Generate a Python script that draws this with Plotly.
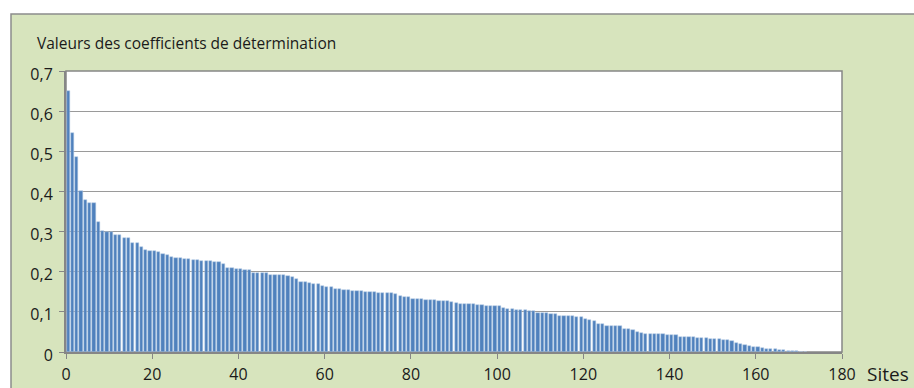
import plotly.graph_objects as go

# Coefficient of determination per site, sorted in decreasing order
r2_values = [
    0.651, 0.545, 0.486, 0.402, 0.379, 0.371, 0.371, 0.323, 0.301, 0.298,
    0.298, 0.291, 0.291, 0.285, 0.285, 0.272, 0.272, 0.262, 0.254, 0.252,
    0.252, 0.249, 0.245, 0.242, 0.237, 0.234, 0.234, 0.232, 0.232, 0.229,
    0.229, 0.227, 0.227, 0.227, 0.224, 0.224, 0.219, 0.209, 0.209, 0.207,
    0.207, 0.204, 0.204, 0.198, 0.198, 0.198, 0.198, 0.193, 0.191, 0.191,
    0.191, 0.189, 0.186, 0.181, 0.174, 0.174, 0.171, 0.169, 0.169, 0.164,
    0.161, 0.161, 0.156, 0.156, 0.154, 0.154, 0.151, 0.151, 0.151, 0.149,
    0.149, 0.149, 0.146, 0.146, 0.146, 0.146, 0.144, 0.140, 0.138, 0.138,
    0.132, 0.132, 0.132, 0.130, 0.130, 0.130, 0.127, 0.127, 0.127, 0.124,
    0.121, 0.120, 0.120, 0.120, 0.120, 0.116, 0.116, 0.115, 0.115, 0.115,
    0.115, 0.110, 0.108, 0.106, 0.104, 0.104, 0.104, 0.102, 0.102, 0.096,
    0.096, 0.096, 0.095, 0.094, 0.090, 0.090, 0.090, 0.090, 0.087, 0.087,
    0.081, 0.080, 0.076, 0.069, 0.069, 0.066, 0.066, 0.066, 0.065, 0.057,
    0.057, 0.055, 0.051, 0.047, 0.044, 0.044, 0.044, 0.044, 0.044, 0.042,
    0.042, 0.042, 0.038, 0.038, 0.038, 0.038, 0.036, 0.036, 0.036, 0.033,
    0.033, 0.033, 0.031, 0.031, 0.028, 0.022, 0.019, 0.017, 0.014, 0.013,
    0.013, 0.009, 0.008, 0.008, 0.008, 0.004, 0.004, 0.003, 0.003, 0.002,
    0.001, 0.001,
]
sites = list(range(len(r2_values)))

x_ticks = [0, 20, 40, 60, 80, 100, 120, 140, 160, 180]
y_ticks = [0, 0.1, 0.2, 0.3, 0.4, 0.5, 0.6, 0.7]
y_labels = ["0", "0,1", "0,2", "0,3", "0,4", "0,5", "0,6", "0,7"]

title_text = "Valeurs des coefficients de détermination"
x_label = "Sites"

W, H = 914, 388
ML, MR, MT, MB = 66, 72, 71, 36
PW, PH = W - ML - MR, H - MT - MB

BAR_BLUE = "#4F81BD"
PANEL_GREEN = "#D7E4BD"
AXIS_GREY = "#868686"
TEXT = "#1a1a1a"
FONT = "Open Sans, Lato, sans-serif"


def px_to_paper_x(px):
    return (px - ML) / PW


def px_to_paper_y(py):
    return (H - MB - py) / PH


fig = go.Figure()
fig.add_trace(go.Bar(
    x=sites,
    y=r2_values,
    width=0.74,
    offset=0.13,
    marker=dict(color=BAR_BLUE, line=dict(color="#B3C9E4", width=0.5)),
    hoverinfo="x+y",
))

# green chart panel with grey frame, extending past the page edges
fig.add_shape(
    type="rect", xref="paper", yref="paper",
    x0=px_to_paper_x(11), x1=px_to_paper_x(W + 20),
    y0=px_to_paper_y(H + 20), y1=px_to_paper_y(14),
    fillcolor=PANEL_GREEN, line=dict(color="#8C8C8C", width=1.5),
    layer="below",
)
# white plotting area
fig.add_shape(
    type="rect", xref="paper", yref="paper",
    x0=0, x1=1, y0=0, y1=1,
    fillcolor="white", line=dict(color=AXIS_GREY, width=1.5),
    layer="below",
)

fig.add_annotation(
    text=x_label, xref="paper", yref="paper",
    x=px_to_paper_x(865), y=px_to_paper_y(374),
    xanchor="left", yanchor="middle", showarrow=False,
    font=dict(family=FONT, size=19, color=TEXT),
)

fig.update_layout(
    width=W, height=H,
    margin=dict(l=ML, r=MR, t=MT, b=MB, pad=0, autoexpand=False),
    paper_bgcolor="white",
    plot_bgcolor="rgba(0,0,0,0)",
    showlegend=False,
    bargap=0,
    title=dict(
        text=title_text, x=37 / W, xanchor="left", xref="container",
        y=1 - 44 / H, yanchor="middle", yref="container",
        font=dict(family=FONT, size=15.5, color=TEXT),
    ),
    font=dict(family=FONT, color=TEXT),
)

fig.update_xaxes(
    range=[0, 180],
    tickvals=x_ticks,
    ticks="outside", ticklen=5, tickcolor=AXIS_GREY, tickwidth=1,
    showline=True, linecolor=AXIS_GREY, linewidth=2,
    showgrid=False, zeroline=False, automargin=False,
    tickfont=dict(family=FONT, size=16, color=TEXT),
    ticklabelstandoff=2,
)
fig.update_yaxes(
    range=[0, 0.7],
    tickvals=y_ticks, ticktext=y_labels,
    ticks="outside", ticklen=5, tickcolor=AXIS_GREY, tickwidth=1,
    showline=True, linecolor=AXIS_GREY, linewidth=2,
    showgrid=True, gridcolor="#9A9A9A", gridwidth=1,
    zeroline=False, automargin=False,
    tickfont=dict(family=FONT, size=16, color=TEXT),
    ticklabelstandoff=3,
    ticklabelshift=3,
)

fig.write_html("out.html")
